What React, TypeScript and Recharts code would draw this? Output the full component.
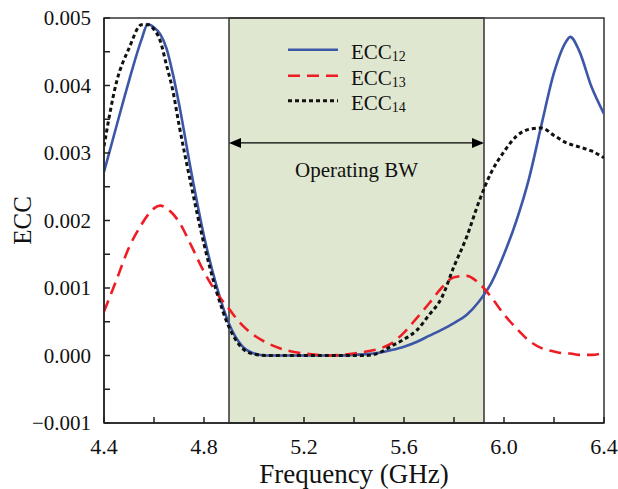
import React from "react"
import {
  LineChart,
  Line,
  XAxis,
  YAxis,
  ReferenceArea,
  ReferenceLine,
  Legend,
} from "recharts"

// frequency points (GHz)
const FREQ = [
  4.4, 4.45, 4.5, 4.55, 4.575, 4.6, 4.625, 4.65, 4.675, 4.7, 4.75, 4.8, 4.85, 4.9, 4.95, 5.0, 5.05,
  5.1, 5.15, 5.2, 5.25, 5.3, 5.35, 5.4, 5.45, 5.5, 5.55, 5.6, 5.65, 5.7, 5.75, 5.8, 5.85, 5.9, 5.95,
  6.0, 6.05, 6.1, 6.15, 6.2, 6.25, 6.265, 6.3, 6.35, 6.4,
]

const ECC12 = [
  0.00272, 0.0034, 0.00407, 0.00468, 0.00491, 0.00486, 0.00476, 0.00455, 0.00418, 0.00373, 0.0027,
  0.00177, 0.00103, 0.00047, 0.00015, 0.00003, 0.0, 0.0, 0.0, 0.0, 0.0, 0.0, 0.0, 0.00001, 0.00002,
  0.00004, 0.00008, 0.00013, 0.0002, 0.00029, 0.00038, 0.00048, 0.0006, 0.0008, 0.00108, 0.0015,
  0.002, 0.00262, 0.00342, 0.00419, 0.00466, 0.00472, 0.00452, 0.00398, 0.00358,
]

const ECC13 = [
  0.00065, 0.00112, 0.0016, 0.00194, 0.00208, 0.00218, 0.00222, 0.00218, 0.0021, 0.00198, 0.00162,
  0.00124, 0.00093, 0.00069, 0.00046, 0.0003, 0.00019, 0.00011, 0.00006, 0.00003, 0.00001, 0.0,
  0.00001, 0.00003, 0.00006, 0.0001, 0.00018, 0.00034, 0.00055, 0.00077, 0.001, 0.00116, 0.00118,
  0.00107, 0.00086, 0.00061, 0.0004, 0.00022, 0.00011, 0.00006, 0.00003, 0.00003, 0.00001, 0.00001,
  0.00004,
]

const ECC14 = [
  0.0031, 0.00405, 0.00455, 0.0049, 0.0049, 0.00483, 0.00466, 0.0043, 0.00393, 0.00342, 0.0025,
  0.00165, 0.00095, 0.00042, 0.00012, 0.00002, 0.0, 0.0, 0.0, 0.0, 0.0, 0.0, 0.0, 0.0, 0.0, 0.00004,
  0.00014, 0.00024, 0.00037, 0.0006, 0.00085, 0.00132, 0.00175, 0.00228, 0.00272, 0.00302, 0.00325,
  0.00335, 0.00337, 0.00326, 0.00315, 0.00313, 0.00309, 0.00303, 0.00293,
]

const X_TICKS = [4.4, 4.6, 4.8, 5.0, 5.2, 5.4, 5.6, 5.8, 6.0, 6.2, 6.4]
const Y_TICKS = [-0.001, -0.0005, 0, 0.0005, 0.001, 0.0015, 0.002, 0.0025, 0.003, 0.0035, 0.004, 0.0045, 0.005]

// operating band
const BAND_START = 4.9
const BAND_END = 5.92
const ARROW_Y = 0.00315

const SERIES = [
  { key: "ecc12", sub: "12", color: "#3c56a8", dash: undefined, width: 2.6 },
  { key: "ecc13", sub: "13", color: "#ee1d25", dash: "12 7", width: 2.6 },
  { key: "ecc14", sub: "14", color: "#111111", dash: "4 3", width: 3 },
]

const FONT = "Liberation Serif, Times New Roman, serif"

const data = FREQ.map((f, i) => ({ f, ecc12: ECC12[i], ecc13: ECC13[i], ecc14: ECC14[i] }))

const isMajorX = (v: number) => Math.abs(((v - 4.4) / 0.4) - Math.round((v - 4.4) / 0.4)) < 1e-6
const isMajorY = (v: number) => Math.abs(v * 1000 - Math.round(v * 1000)) < 1e-6

const fmtY = (v: number) => {
  if (!isMajorY(v)) return ""
  const s = Math.abs(v).toFixed(3)
  return v < 0 ? "\u2212" + s : s
}

function ArrowShape(props: any) {
  const { x1, y1, x2, y2 } = props
  const h = 12
  const w = 5
  return (
    <g>
      <line x1={x1 + h} y1={y1} x2={x2 - h} y2={y2} stroke="#000" strokeWidth={1.3} />
      <polygon points={`${x1},${y1} ${x1 + h},${y1 - w} ${x1 + h},${y1 + w}`} fill="#000" />
      <polygon points={`${x2},${y2} ${x2 - h},${y2 - w} ${x2 - h},${y2 + w}`} fill="#000" />
    </g>
  )
}

function LegendBox() {
  return (
    <div>
      {SERIES.map((s) => (
        <svg key={s.key} width={140} height={25.5} style={{ display: "block" }}>
          <line
            x1={4}
            x2={54}
            y1={12.75}
            y2={12.75}
            stroke={s.color}
            strokeWidth={s.width}
            strokeDasharray={s.dash}
          />
          <text x={67} y={21.5} fontFamily={FONT} fontSize={21} fill="#111">
            ECC
            <tspan fontSize={14} dy={2}>
              {s.sub}
            </tspan>
          </text>
        </svg>
      ))}
    </div>
  )
}

export default function App() {
  return (
    <div
      style={{
        position: "absolute",
        left: 0,
        top: 0,
        width: 618,
        height: 489,
        background: "#fff",
        fontFamily: FONT,
      }}
    >
      <LineChart
        width={618}
        height={489}
        data={data}
        margin={{ top: 18, right: 14, bottom: 0, left: 0 }}
      >
        <ReferenceArea
          x1={BAND_START}
          x2={BAND_END}
          y1={-0.001}
          y2={0.005}
          fill="#dfe7d0"
          fillOpacity={1}
          stroke="#333"
          strokeWidth={1.5}
        />
        <XAxis
          type="number"
          dataKey="f"
          domain={[4.4, 6.4]}
          ticks={X_TICKS}
          allowDataOverflow
          height={66}
          tickSize={-6}
          tickMargin={21}
          tickFormatter={(v: number) => (isMajorX(v) ? v.toFixed(1) : "")}
          tick={{ fontSize: 22, fill: "#111", fontFamily: FONT }}
          axisLine={{ stroke: "#222", strokeWidth: 1.5 }}
          tickLine={{ stroke: "#222", strokeWidth: 1.5 }}
          label={{ value: "Frequency (GHz)", position: "insideBottom", offset: 6, fontSize: 27, fill: "#111", fontFamily: FONT }}
        />
        <YAxis
          type="number"
          domain={[-0.001, 0.005]}
          ticks={Y_TICKS}
          allowDataOverflow
          width={104}
          tickSize={-6}
          tickMargin={19}
          tickFormatter={fmtY}
          tick={{ fontSize: 21, fill: "#111", fontFamily: FONT }}
          axisLine={{ stroke: "#222", strokeWidth: 1.5 }}
          tickLine={{ stroke: "#222", strokeWidth: 1.5 }}
          label={{
            value: "ECC",
            angle: -90,
            position: "insideLeft",
            offset: 22,
            fontSize: 25,
            fill: "#111",
            fontFamily: FONT,
            style: { textAnchor: "middle" },
          }}
        />
        <ReferenceArea
          x1={4.4}
          x2={6.4}
          y1={-0.001}
          y2={0.005}
          fill="none"
          stroke="#333"
          strokeWidth={1.5}
        />
        <ReferenceLine
          segment={[
            { x: BAND_START, y: ARROW_Y },
            { x: BAND_END, y: ARROW_Y },
          ]}
          shape={ArrowShape}
          label={{ value: "Operating BW", position: "bottom", offset: 19, fontSize: 21, fill: "#111", fontFamily: FONT }}
        />
        {SERIES.map((s) => (
          <Line
            key={s.key}
            type="monotone"
            dataKey={s.key}
            stroke={s.color}
            strokeWidth={s.width}
            strokeDasharray={s.dash}
            dot={false}
            activeDot={false}
            isAnimationActive={false}
          />
        ))}
        <Legend
          layout="vertical"
          verticalAlign="middle"
          align="center"
          wrapperStyle={{ left: 284, top: 37, width: 140 }}
          content={() => <LegendBox />}
        />
      </LineChart>
    </div>
  )
}
